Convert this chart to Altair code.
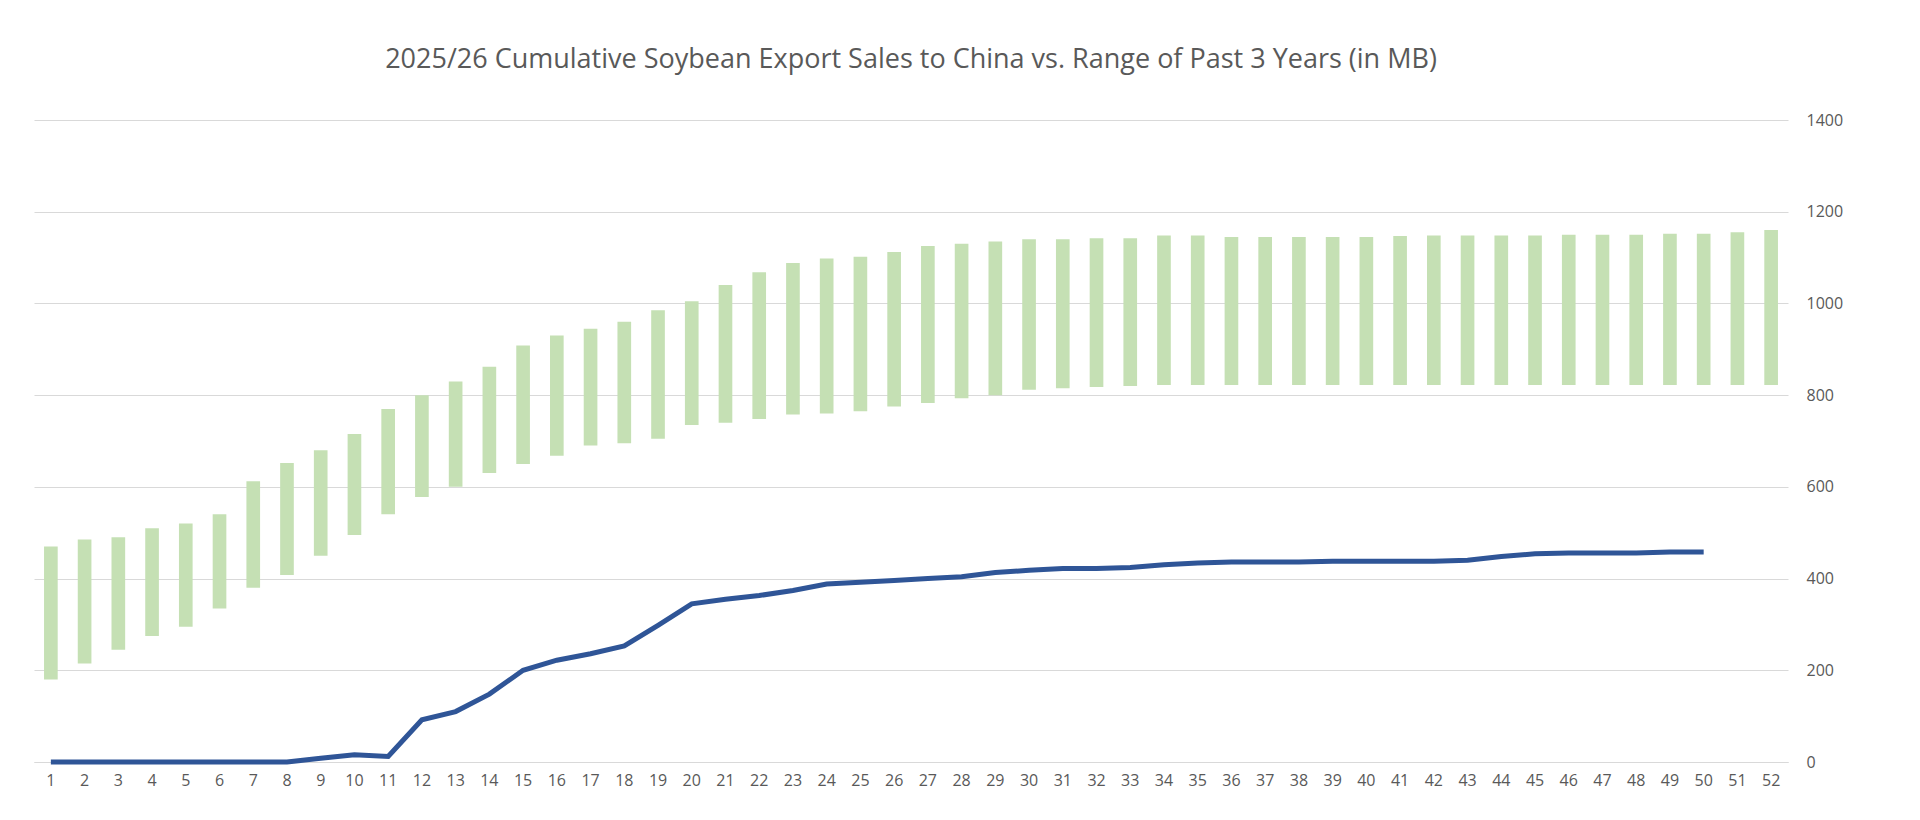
import pandas as pd
import altair as alt

weeks = list(range(1, 53))
range_low = [180, 215, 245, 275, 295, 335, 380, 408, 450, 495, 540, 578, 600, 630,
             650, 668, 690, 695, 705, 735, 740, 748, 758, 760, 765, 775, 783, 793,
             800, 812, 815, 818, 820, 822, 822, 822, 822, 822, 822, 822, 822, 822,
             822, 822, 822, 822, 822, 822, 822, 822, 822, 822]
range_high = [470, 485, 490, 510, 520, 540, 612, 652, 680, 715, 770, 800, 830, 862,
              908, 930, 945, 960, 985, 1005, 1040, 1068, 1088, 1098, 1102, 1112, 1125,
              1130, 1135, 1140, 1140, 1142, 1142, 1148, 1148, 1145, 1145, 1145, 1145,
              1145, 1147, 1148, 1148, 1148, 1148, 1150, 1150, 1150, 1152, 1152, 1155, 1160]
sales_2526 = [0, 0, 0, 0, 0, 0, 0, 0, 8, 16, 12, 92, 110, 148, 200, 222, 236, 253,
              298, 345, 355, 363, 374, 388, 392, 396, 400, 404, 413, 418, 422, 422,
              424, 430, 434, 436, 436, 436, 438, 438, 438, 438, 440, 448, 454, 456,
              456, 456, 458, 458]

bars = pd.DataFrame({"week": weeks, "low": range_low, "high": range_high})
line_df = pd.DataFrame({"week": weeks[:len(sales_2526)], "sales": sales_2526})

x = alt.X("week:O", title=None,
          axis=alt.Axis(labelAngle=0, labelColor="#595959", labelFontSize=16,
                        ticks=False, domainColor="#d9d9d9", labelPadding=10))
y_scale = alt.Scale(domain=[0, 1400])

range_bars = alt.Chart(bars).mark_bar(color="#c5e0b4", width={"band": 0.45}).encode(
    x=x,
    y=alt.Y("low:Q", scale=y_scale, title=None,
            axis=alt.Axis(orient="right", values=list(range(0, 1401, 200)), format="d",
                          labelColor="#595959", labelFontSize=16, ticks=False,
                          domain=False, gridColor="#d9d9d9", labelPadding=18)),
    y2="high:Q",
)

sales_line = alt.Chart(line_df).mark_line(color="#2f5597", strokeWidth=5).encode(
    x=x,
    y=alt.Y("sales:Q", scale=y_scale),
)

chart = alt.layer(range_bars, sales_line).properties(
    width=1754, height=642,
    title=alt.TitleParams("2025/26 Cumulative Soybean Export Sales to China vs. Range of Past 3 Years (in MB)",
                          fontSize=27, fontWeight="normal", color="#595959",
                          font="Open Sans", offset=38),
    padding={"left": 26, "top": 38, "right": 10, "bottom": 10},
).configure_view(stroke=None).configure_axis(labelFont="Open Sans")

chart.save("out.html", embed_options={"renderer": "svg", "actions": False})
